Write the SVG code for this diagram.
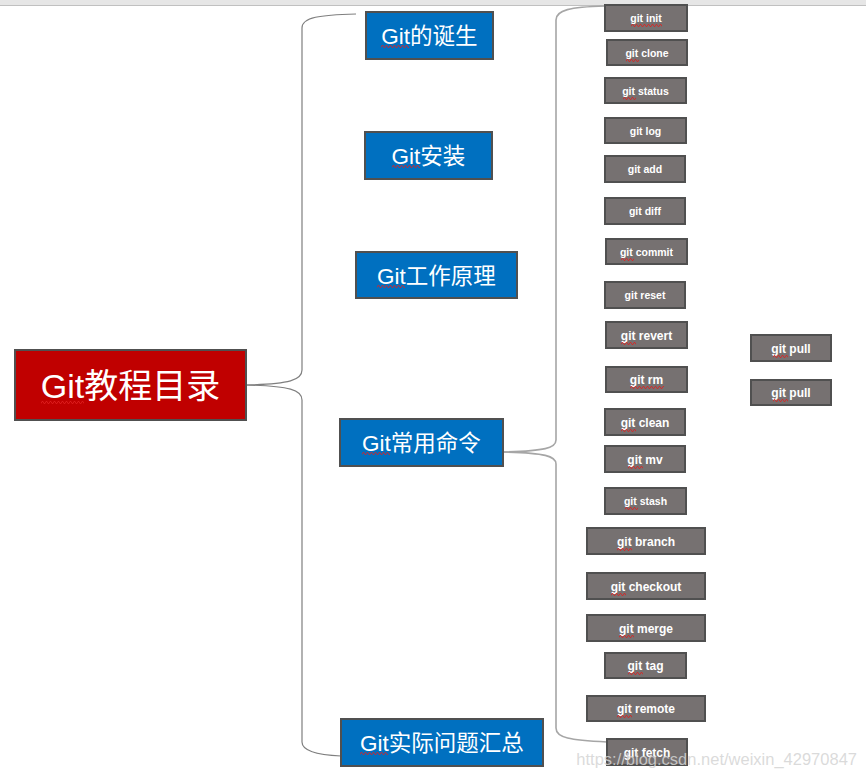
<svg xmlns="http://www.w3.org/2000/svg" width="866" height="777" viewBox="0 0 866 777">
<defs>
<pattern id="wv" width="4" height="3" patternUnits="userSpaceOnUse">
<path d="M0,2.5 L1,0.5 L2,0.5 L3,2.5 L4,2.5" fill="none" stroke="#e02020" stroke-width="0.8"/>
</pattern>
<style>
.root{fill:#c00000;stroke:#505050;stroke-width:2}
.blue{fill:#0070c0;stroke:#505050;stroke-width:2}
.gray{fill:#767171;stroke:#505050;stroke-width:2}
.tb{fill:#fff;font-family:"Liberation Sans","Noto Sans CJK SC",sans-serif;text-anchor:middle}
.tg{fill:#fff;font-family:"Liberation Sans",Arial,sans-serif;font-weight:bold;text-anchor:middle}
.s{font-size:10.5px}
.m{font-size:12px}
.br{fill:none;stroke:#7f7f7f;stroke-width:1.2}
.br2{fill:none;stroke:#a6a6a6;stroke-width:1.6}
.sq{fill:url(#wv)}
</style>
</defs>
<rect x="0" y="0" width="866" height="5" fill="#e6e6e6"/>
<line x1="0" y1="5.5" x2="866" y2="5.5" stroke="#c0c0c0" stroke-width="1"/>

<g id="connectors">
<path class="br" d="M356,14 C320,15 302,17 302,28 L302,370 C302,380 290,384 246,385"/>
<path class="br" d="M246,385 C290,386 302,390 302,400 L302,742 C302,752 320,755 341,756"/>
<path class="br2" d="M605,6 C570,7 556,10 556,20 L556,440 C556,448 545,451 503,452"/>
<path class="br2" d="M503,452 C545,453 556,456 556,464 L556,728 C556,738 570,740 607,742"/>
</g>

<g id="root">
<rect class="root" x="15" y="350" width="231" height="70"/>
<text class="tb" x="130.5" y="398" font-size="34">Git教程目录</text>
<g transform="translate(41,401)"><rect class="sq" width="43" height="3"/></g>
</g>

<g id="n-birth">
<rect class="blue" x="366" y="12" width="127" height="47"/>
<text class="tb" x="429.5" y="44" font-size="22.5">Git的诞生</text>
<g transform="translate(381,45)"><rect class="sq" width="28" height="3"/></g>
</g>
<g id="n-install">
<rect class="blue" x="365" y="132" width="127" height="47"/>
<text class="tb" x="428.5" y="164" font-size="22.5">Git安装</text>
<g transform="translate(392,165)"><rect class="sq" width="28" height="3"/></g>
</g>
<g id="n-principle">
<rect class="blue" x="356" y="252" width="161" height="46"/>
<text class="tb" x="436.5" y="283.5" font-size="22.5">Git工作原理</text>
<g transform="translate(377,285)"><rect class="sq" width="28" height="3"/></g>
</g>
<g id="n-commands">
<rect class="blue" x="340" y="419" width="163" height="47"/>
<text class="tb" x="421.5" y="451" font-size="22.5">Git常用命令</text>
<g transform="translate(362,452)"><rect class="sq" width="28" height="3"/></g>
</g>
<g id="n-problems">
<rect class="blue" x="341" y="719" width="202" height="47"/>
<text class="tb" x="442" y="751" font-size="22.5">Git实际问题汇总</text>
<g transform="translate(360,752)"><rect class="sq" width="28" height="3"/></g>
</g>

<g id="c-init"><rect class="gray" x="605" y="5" width="82" height="26"/><text class="tg s" x="646" y="22">git init</text>
<g transform="translate(631,24)"><rect class="sq" width="31" height="3"/></g></g>
<g id="c-clone"><rect class="gray" x="607" y="40" width="80" height="25"/><text class="tg s" x="647" y="57">git clone</text>
<g transform="translate(626,59)"><rect class="sq" width="13" height="3"/></g></g>
<g id="c-status"><rect class="gray" x="605" y="78" width="81" height="25"/><text class="tg s" x="645.5" y="95">git status</text>
<g transform="translate(623,97)"><rect class="sq" width="13" height="3"/></g></g>
<g id="c-log"><rect class="gray" x="605" y="118" width="81" height="25"/><text class="tg s" x="645.5" y="135">git log</text></g>
<g id="c-add"><rect class="gray" x="605" y="156" width="80" height="26"/><text class="tg s" x="645" y="173">git add</text></g>
<g id="c-diff"><rect class="gray" x="605" y="198" width="80" height="26"/><text class="tg s" x="645" y="215">git diff</text></g>
<g id="c-commit"><rect class="gray" x="606" y="239" width="81" height="25"/><text class="tg s" x="646.5" y="256">git commit</text>
<g transform="translate(621,258)"><rect class="sq" width="13" height="3"/></g></g>
<g id="c-reset"><rect class="gray" x="605" y="282" width="80" height="26"/><text class="tg s" x="645" y="299">git reset</text></g>
<g id="c-revert"><rect class="gray" x="606" y="322" width="81" height="26"/><text class="tg m" x="646.5" y="340">git revert</text>
<g transform="translate(621,342)"><rect class="sq" width="15" height="3"/></g></g>
<g id="c-rm"><rect class="gray" x="606" y="367" width="81" height="25"/><text class="tg m" x="646.5" y="384">git rm</text>
<g transform="translate(630,386)"><rect class="sq" width="34" height="3"/></g></g>
<g id="c-clean"><rect class="gray" x="605" y="409" width="80" height="26"/><text class="tg m" x="645" y="427">git clean</text>
<g transform="translate(621,429)"><rect class="sq" width="15" height="3"/></g></g>
<g id="c-mv"><rect class="gray" x="605" y="446" width="80" height="26"/><text class="tg m" x="645" y="464">git mv</text>
<g transform="translate(628,466)"><rect class="sq" width="15" height="3"/></g></g>
<g id="c-stash"><rect class="gray" x="605" y="488" width="81" height="26"/><text class="tg s" x="645.5" y="505">git stash</text>
<g transform="translate(625,507)"><rect class="sq" width="13" height="3"/></g></g>
<g id="c-branch"><rect class="gray" x="587" y="528" width="118" height="26"/><text class="tg m" x="646" y="546">git branch</text>
<g transform="translate(617,548)"><rect class="sq" width="15" height="3"/></g></g>
<g id="c-checkout"><rect class="gray" x="587" y="573" width="118" height="26"/><text class="tg m" x="646" y="591">git checkout</text>
<g transform="translate(611,593)"><rect class="sq" width="15" height="3"/></g></g>
<g id="c-merge"><rect class="gray" x="587" y="615" width="118" height="26"/><text class="tg m" x="646" y="633">git merge</text>
<g transform="translate(619,635)"><rect class="sq" width="15" height="3"/></g></g>
<g id="c-tag"><rect class="gray" x="605" y="653" width="81" height="25"/><text class="tg m" x="645.5" y="670">git tag</text>
<g transform="translate(628,672)"><rect class="sq" width="15" height="3"/></g></g>
<g id="c-remote"><rect class="gray" x="587" y="696" width="118" height="25"/><text class="tg m" x="646" y="713">git remote</text>
<g transform="translate(617,715)"><rect class="sq" width="15" height="3"/></g></g>
<g id="c-fetch"><rect class="gray" x="607" y="739" width="80" height="26"/><text class="tg m" x="647" y="757">git fetch</text></g>
<g id="c-pull1"><rect class="gray" x="751" y="335" width="80" height="26"/><text class="tg m" x="791" y="353">git pull</text>
<g transform="translate(773,355)"><rect class="sq" width="15" height="3"/></g></g>
<g id="c-pull2"><rect class="gray" x="751" y="380" width="80" height="25"/><text class="tg m" x="791" y="397">git pull</text>
<g transform="translate(773,399)"><rect class="sq" width="15" height="3"/></g></g>

<text x="857" y="765" font-family="Liberation Sans, Arial, sans-serif" font-size="16.5" fill="#d4d4d4" fill-opacity="0.85" text-anchor="end">https://blog.csdn.net/weixin_42970847</text>
</svg>
